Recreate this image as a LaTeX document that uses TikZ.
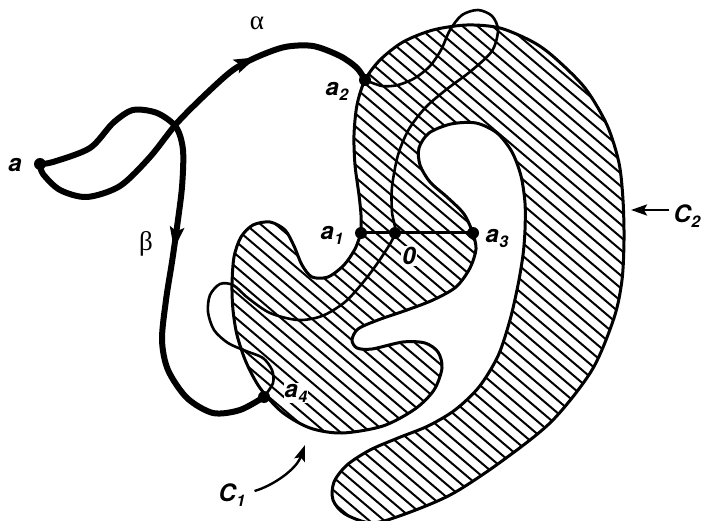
\documentclass[tikz,border=0pt]{standalone}
\usepackage{fontspec}
\setsansfont{TeX Gyre Heros}
\newfontfamily\greekfont{Liberation Serif}
\usetikzlibrary{arrows.meta,decorations.markings}
\newcommand{\mysub}[1]{\kern0.5pt\raisebox{-5pt}{\fontsize{16}{16}\selectfont #1}}
\begin{document}
\begin{tikzpicture}[x=1pt,y=-1pt,
  lab/.style={font=\fontsize{24}{24}\selectfont\sffamily\bfseries\itshape, inner sep=1pt},
  greek/.style={font=\fontsize{27}{27}\selectfont\greekfont, inner sep=1pt},
  boundary/.style={line width=3pt, line join=round},
  thinpath/.style={line width=2.6pt},
  thickpath/.style={line width=6pt, line cap=round, line join=round},
  hatch/.style={line width=2pt},
  dot/.style={circle, fill=black, inner sep=0pt, minimum size=12pt},
  ptr/.style={line width=2.4pt, -{Stealth[length=16pt,width=11pt,inset=3pt]}},
  midarrow/.style={decoration={markings, mark=at position #1 with {\arrow{Stealth[length=22pt,width=14pt,inset=4pt]}}}, postaction={decorate}}
]
\fill[white] (0,0) rectangle (704,521);
\useasboundingbox (0,0) rectangle (704,521);

% named points
\coordinate (a)  at (40,164);
\coordinate (a2) at (365,80);
\coordinate (a1) at (361,233);
\coordinate (o)  at (395,233);
\coordinate (a3) at (473,233);
\coordinate (a4) at (264,397);

% hatching of the region C1 u C2
\begin{scope}
\clip
  plot[smooth] coordinates {(a1) (355,249) (344,265) (328,277) (312,277) (302,265) (294,246) (285,230) (270,222) (253,225) (241,237) (234,257) (232,285) (233,310) (237,335) (246,362) (260,388) (282,412) (310,428) (342,433) (383,426) (415,409) (434,390) (442,368) (438,352) (425,343) (403,342) (372,349) (357,348) (352,340) (358,329) (378,320) (407,310) (433,300) (456,287) (470,268) (476,249) (a3)}
  -- plot[smooth] coordinates {(a3) (464,214) (447,197) (430,182) (420,165) (419,148) (429,133) (451,124) (476,123) (497,133) (512,152) (521,176) (525,203) (525,230) (523,255) (518,285) (510,320) (498,356) (479,387) (455,410) (428,426) (398,438) (370,450) (347,465) (334,482) (333,500) (345,514) (372,523) (405,514) (452,494) (502,461) (552,421) (592,370) (614,318) (622,280) (624,240) (623,200) (619,163) (607,125) (585,88) (555,58) (533,42) (500,28) (467,25) (433,30) (403,42) (380,60) (a2) (357,105) (354,135) (355,165) (359,195) (361,215) (a1)}
  -- cycle;
\foreach \i in {-22,...,36} \draw[hatch] (\i*15,-10) -- ++(660,561);
\end{scope}

% outline of the region
\draw[boundary]
  plot[smooth] coordinates {(a1) (355,249) (344,265) (328,277) (312,277) (302,265) (294,246) (285,230) (270,222) (253,225) (241,237) (234,257) (232,285) (233,310) (237,335) (246,362) (260,388) (282,412) (310,428) (342,433) (383,426) (415,409) (434,390) (442,368) (438,352) (425,343) (403,342) (372,349) (357,348) (352,340) (358,329) (378,320) (407,310) (433,300) (456,287) (470,268) (476,249) (a3)}
  -- plot[smooth] coordinates {(a3) (464,214) (447,197) (430,182) (420,165) (419,148) (429,133) (451,124) (476,123) (497,133) (512,152) (521,176) (525,203) (525,230) (523,255) (518,285) (510,320) (498,356) (479,387) (455,410) (428,426) (398,438) (370,450) (347,465) (334,482) (333,500) (345,514) (372,523) (405,514) (452,494) (502,461) (552,421) (592,370) (614,318) (622,280) (624,240) (623,200) (619,163) (607,125) (585,88) (555,58) (533,42) (500,28) (467,25) (433,30) (403,42) (380,60) (a2) (357,105) (354,135) (355,165) (359,195) (361,215) (a1)}
  -- cycle;

% segment a1 -- a3
\draw[boundary] (a1) -- (a3);

% thin curve from a2 through 0 to a4
\draw[thinpath] plot[smooth] coordinates {(a2) (382,86) (398,85) (415,78) (430,66) (441,50) (450,30) (462,15) (478,10) (492,16) (498,30) (492,51) (471,71) (447,89) (426,107) (409,129) (398,155) (392,187) (392,212) (o) (383,255) (365,280) (345,302) (322,316) (298,320) (270,313) (248,298) (233,285) (220,284) (210,295) (208,312) (214,330) (228,343) (246,351) (263,358) (272,370) (273,383) (a4)};

% alpha
\draw[thickpath, midarrow=0.7] plot[smooth] coordinates {(a) (43,174) (60,190) (87,197) (120,186) (150,157) (177,123) (207,93) (233,70) (257,57) (285,47) (313,46) (340,56) (357,68) (a2)};
% beta
\draw[thickpath, midarrow=0.54] plot[smooth] coordinates {(a) (53,162) (90,148) (113,123) (133,110) (157,113) (176,127) (183,150) (182,187) (177,227) (172,262) (166,300) (162,340) (168,370) (187,398) (213,413) (240,410) (a4)};

% dots
\node[dot] (da)  at (a)  {};
\node[dot] (da2) at (a2) {};
\node[dot] (da1) at (a1) {};
\node[dot] (do)  at (o)  {};
\node[dot] (da3) at (a3) {};
\node[dot] (da4) at (a4) {};

% labels
\node[lab] (la) at (15,165) {a};
\node[greek] (lalpha) at (257,23) {α};
\node[greek] (lbeta) at (146,244) {β};
\node[lab] (la2) at (337,91) {a\mysub{2}};
\node[lab] (la1) at (332,235) {a\mysub{1}};
\node[lab, fill=white] (lo) at (409,256) {0};
\node[lab] (la3) at (497,238) {a\mysub{3}};
\node[lab, fill=white] (la4) at (296,393) {a\mysub{4}};
\node[lab] (lc1) at (232,495) {C\mysub{1}};
\node[lab] (lc2) at (687,216) {C\mysub{2}};

% pointers
\coordinate (c1tip) at (305,445);
\draw[ptr] ([shift={(8,-4)}]lc1.east) .. controls (272,486) and (296,470) .. (c1tip);
\coordinate (c2tail) at (669,210);
\coordinate (c2tip) at (631,210);
\draw[ptr] (c2tail) -- (c2tip);
\end{tikzpicture}
\end{document}
